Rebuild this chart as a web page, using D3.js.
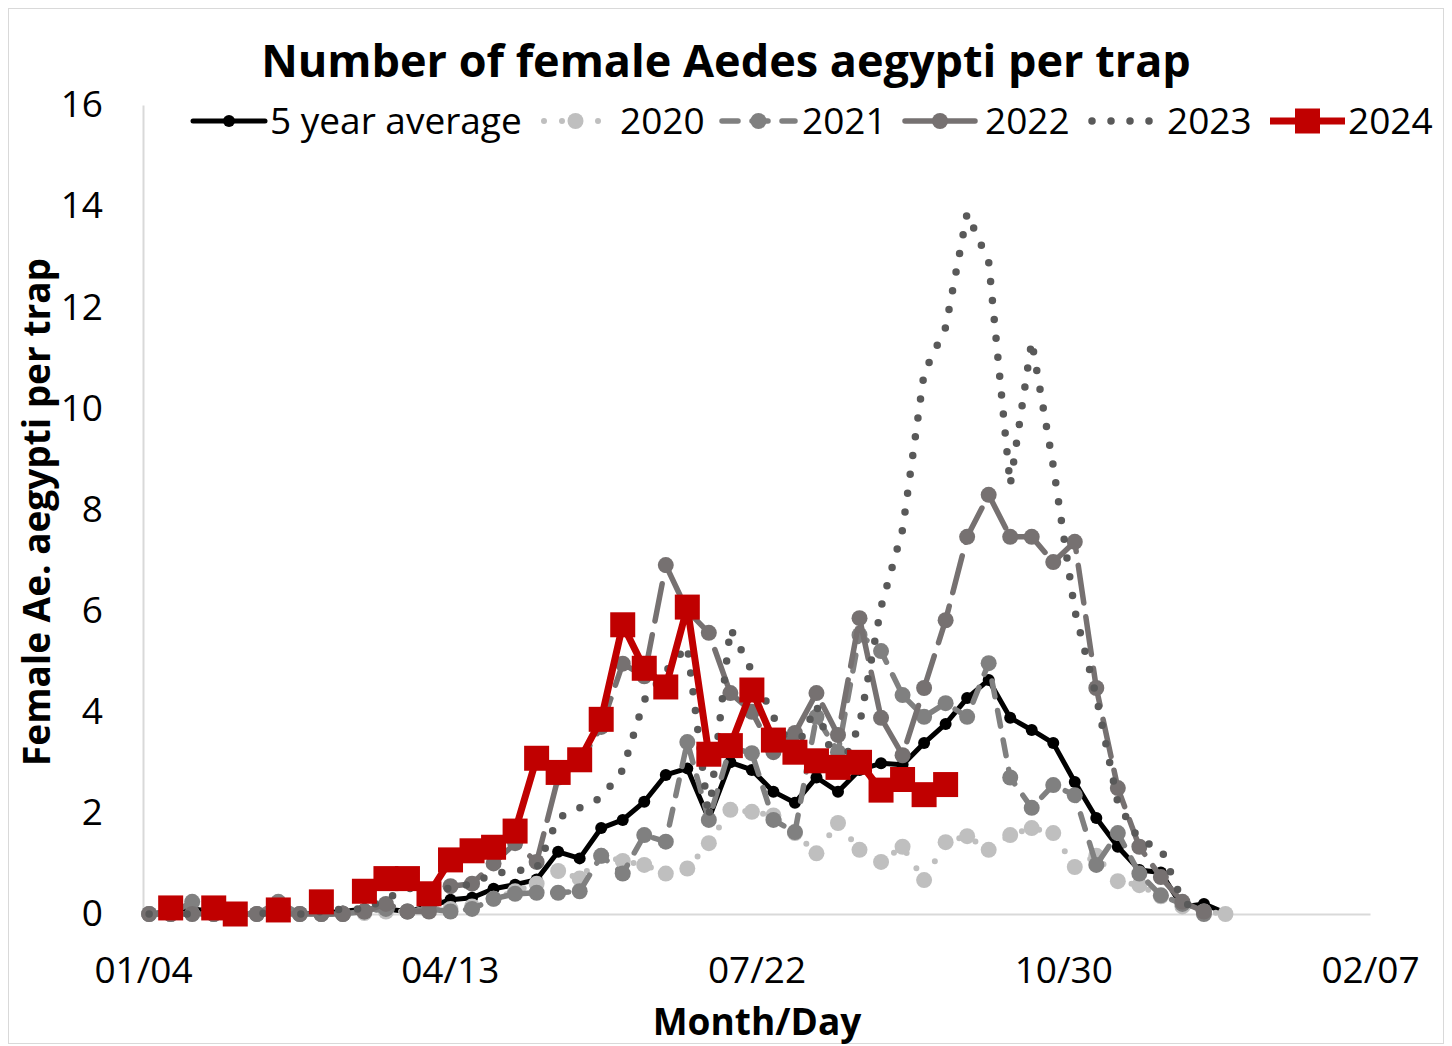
<!DOCTYPE html>
<html><head><meta charset="utf-8">
<script src="https://cdn.jsdelivr.net/npm/d3@7"></script>
<style>
body{margin:0;background:#fff;}
svg{display:block;font-family:"Open Sans",sans-serif;}
</style></head>
<body>
<svg id="c" width="1452" height="1046"></svg>
<script>
// ---- data ----
const weekDays = [6,13,20,27,34,41,48,55,62,69,76,83,90,97,104,111,118,125,132,139,146,153,160,167,174,181,188,195,202,209,216,223,230,237,244,251,258,265,272,279,286,293,300,307,314,321,328,335,342,349,356];
const xTickDays = [4,103.75,203.5,303.25,403];
const xTickLabels = ["01/04","04/13","07/22","10/30","02/07"];
const yTicks = [0,2,4,6,8,10,12,14,16];
const seriesNames = ["5 year average","2020","2021","2022","2023","2024"];

const avg5 = [0,0.05,0.1,0.05,0,0,0.05,0,0.02,0.05,0.1,0.1,0.05,0.15,0.28,0.32,0.5,0.58,0.68,1.23,1.1,1.7,1.86,2.22,2.75,2.88,1.88,3.0,2.85,2.42,2.2,2.7,2.42,2.85,2.98,2.95,3.38,3.76,4.27,4.63,3.88,3.64,3.38,2.61,1.9,1.33,0.87,0.82,0.14,0.2,0.02];
const y2020 = [0,0,0,0,0,0,0,0,0,0,0.02,0.05,0.05,0.1,0.1,0.15,0.3,0.45,0.6,0.85,0.7,1.15,1.05,0.97,0.8,0.9,1.4,2.06,2.02,1.95,1.6,1.2,1.8,1.27,1.03,1.33,0.67,1.42,1.54,1.27,1.56,1.7,1.6,0.93,1.15,0.65,0.57,0.35,0.15,0.05,0];
const y2021 = [0,0,0.24,0,0,0,0.24,0,0,0,0.05,0.1,0.05,0.1,0.05,0.1,0.3,0.4,0.42,0.42,0.45,1.15,0.8,1.56,1.43,3.4,1.86,3.3,3.18,1.86,1.62,3.9,3.2,5.52,5.2,4.33,3.9,4.17,3.9,4.96,2.7,2.1,2.55,2.35,0.97,1.6,0.8,0.37,0.2,0,null];
const y2022 = [0,0,0,0,0,0,0,0,0,0,0.05,0.2,0.05,0.05,0.55,0.6,1.0,1.4,1.03,2.7,3.0,3.7,4.95,4.7,6.9,6.0,5.56,4.37,4.0,3.2,3.58,4.37,3.54,5.85,3.88,3.14,4.47,5.81,7.46,8.29,7.46,7.46,6.96,7.36,4.47,2.49,1.33,0.73,0.24,0.05,null];
const y2023 = [0,0,0,0,0,0,0.05,0,0.05,0.1,0.1,0.3,0.5,0.55,0.5,0.6,0.8,0.85,0.9,1.9,2.1,2.3,2.85,4.23,4.8,5.3,1.9,5.65,4.8,3.9,3.2,4.13,2.75,3.74,6.07,7.6,10.7,11.6,13.86,12.9,8.48,11.33,8.86,6.0,4.3,2.2,1.45,1.3,0.25,0,null];
const y2024 = [null,0.12,null,0.12,0,null,0.08,null,0.24,null,0.45,0.7,0.7,0.4,1.07,1.25,1.32,1.64,3.08,2.8,3.05,3.85,5.72,4.86,4.49,6.07,3.16,3.33,4.43,3.44,3.2,3.03,2.9,3.0,2.45,2.66,2.36,2.56];

// ---- styles (presentation only) ----
const styles = [
  {name:seriesNames[0], data:avg5, color:"#000000", width:5, dash:null, cap:"round", marker:"circle", r:6, legOff:0},
  {name:seriesNames[1], data:y2020, color:"#BFBFBF", width:6, dash:"0 18", cap:"round", marker:"circle", r:8, legOff:-3},
  {name:seriesNames[2], data:y2021, color:"#808080", width:5.5, dash:"16 14", cap:"round", marker:"circle", r:8, legOff:0},
  {name:seriesNames[3], data:y2022, color:"#767171", width:5.5, dash:"38 14", cap:"round", marker:"circle", r:8, legOff:10},
  {name:seriesNames[4], data:y2023, color:"#595959", width:7.5, dash:"0 19", cap:"round", marker:null, legOff:-4},
  {name:seriesNames[5], data:y2024, color:"#C00000", width:7, dash:null, cap:"butt", marker:"square", r:12.5, legOff:0}
];

const svg = d3.select("#c");
svg.append("rect").attr("x",8.5).attr("y",8.5).attr("width",1435).attr("height",1035)
   .attr("fill","#fff").attr("stroke","#d9d9d9").attr("stroke-width",1);

const x = d3.scaleLinear().domain([4,403]).range([143,1370]);
const y = d3.scaleLinear().domain([0,16]).range([914,105]);

// title
svg.append("text").attr("x",726).attr("y",77).attr("text-anchor","middle")
  .attr("font-size",45).attr("font-weight",700).attr("fill","#000")
  .text("Number of female Aedes aegypti per trap");

// axes
const xAxis = d3.axisBottom(x).tickValues(xTickDays).tickSize(0).tickPadding(43)
  .tickFormat((d,i)=>xTickLabels[i]);
const gx = svg.append("g").attr("transform","translate(0,914)").call(xAxis);
gx.select(".domain").attr("stroke","#d9d9d9").attr("stroke-width",2);
gx.selectAll("text").attr("font-size",37).attr("font-family","Open Sans").attr("fill","#000");

const yAxis = d3.axisLeft(y).tickValues(yTicks).tickSize(0).tickPadding(40);
const gy = svg.append("g").attr("transform","translate(143,0)").call(yAxis);
gy.select(".domain").attr("stroke","#d9d9d9").attr("stroke-width",2);
gy.selectAll("text").attr("font-size",37).attr("font-family","Open Sans").attr("fill","#000");

// axis titles
svg.append("text").attr("x",757).attr("y",1035).attr("text-anchor","middle")
  .attr("font-size",37).attr("font-weight",700).text("Month/Day");
svg.append("text").attr("transform","translate(50,512) rotate(-90)").attr("text-anchor","middle")
  .attr("font-size",37).attr("font-weight",700).text("Female Ae. aegypti per trap");

// series
const plot = svg.append("g");
styles.forEach(s=>{
  const pts = s.data.map((v,i)=>({x:weekDays[i], v}));
  const line = d3.line().defined(d=>d.v!==null && d.v!==undefined)
    .x(d=>x(d.x)).y(d=>y(d.v));
  const g = plot.append("g");
  g.append("path").datum(pts).attr("d",line).attr("fill","none")
    .attr("stroke",s.color).attr("stroke-width",s.width)
    .attr("stroke-linecap",s.cap).attr("stroke-linejoin","round")
    .attr("stroke-dasharray",s.dash);
  const valid = pts.filter(d=>d.v!==null && d.v!==undefined);
  if(s.marker==="circle"){
    g.selectAll("circle").data(valid).join("circle")
      .attr("cx",d=>x(d.x)).attr("cy",d=>y(d.v)).attr("r",s.r).attr("fill",s.color);
  } else if(s.marker==="square"){
    g.selectAll("rect").data(valid).join("rect")
      .attr("x",d=>x(d.x)-s.r).attr("y",d=>y(d.v)-s.r)
      .attr("width",2*s.r).attr("height",2*s.r).attr("fill",s.color);
  }
});

// legend
const legX = [[193,265,270],[541,610,620],[722,795,802],[905,975,985],[1088,1158,1167],[1270,1345,1348]];
const ly = 121;
const lg = svg.append("g");
styles.forEach((s,i)=>{
  const [a,b,t] = legX[i];
  lg.append("line").attr("x1",a).attr("x2",b).attr("y1",ly).attr("y2",ly)
    .attr("stroke",s.color).attr("stroke-width",s.width)
    .attr("stroke-linecap",s.cap).attr("stroke-dasharray",s.dash)
    .attr("stroke-dashoffset",s.legOff);
  const cx=(a+b)/2;
  if(s.marker==="circle") lg.append("circle").attr("cx",cx).attr("cy",ly).attr("r",s.r).attr("fill",s.color);
  if(s.marker==="square") lg.append("rect").attr("x",cx-s.r).attr("y",ly-s.r).attr("width",2*s.r).attr("height",2*s.r).attr("fill",s.color);
  lg.append("text").attr("x",t).attr("y",ly+13).attr("font-size",37).attr("fill","#000").text(s.name);
});
</script>
</body></html>
